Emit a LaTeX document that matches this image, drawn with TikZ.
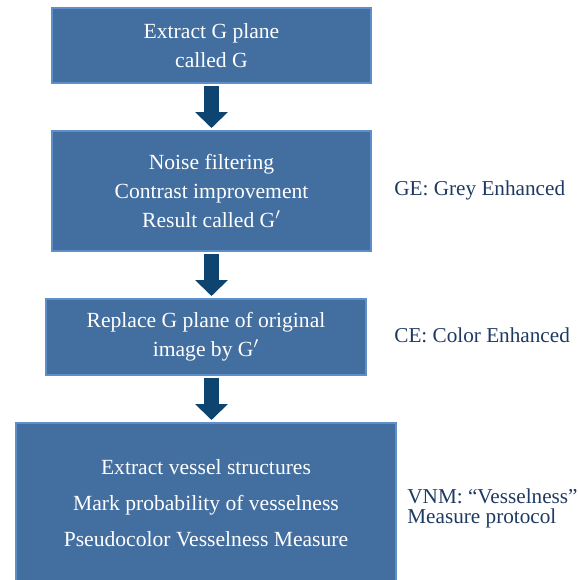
\documentclass[tikz,border=0pt]{standalone}
\usepackage{fontspec}
\setmainfont{Liberation Serif}
\usetikzlibrary{arrows.meta,positioning}

\definecolor{boxblue}{HTML}{436EA0}
\definecolor{boxline}{HTML}{5F8FCB}
\definecolor{arrowblue}{HTML}{0E4470}
\definecolor{labelblue}{HTML}{1F3A62}

\tikzset{
  stepbox/.style={draw=boxline, line width=1pt, fill=boxblue, text=white,
    align=center, inner sep=0pt, font=\fontsize{10.8}{14.5}\selectfont},
  sidelabel/.style={text=labelblue, align=left, inner sep=0pt, anchor=west,
    font=\fontsize{10.6}{10}\selectfont},
  downarrow/.style={arrowblue, line width=7.5pt,
    -{Triangle[width=16pt,length=8pt]}, shorten <=1pt, shorten >=1pt}
}

\begin{document}
\begin{tikzpicture}[x=0.5pt, y=-0.5pt]
    \useasboundingbox (0,0) rectangle (578,580);
    \clip (0,0) rectangle (578,580);
    % steps
    \node[stepbox, minimum width=159.5pt, minimum height=37.5pt] (extract) at (211.5,45.5)
        {Extract G plane\\called G};
    \node[stepbox, minimum width=159.5pt, minimum height=60pt] (enhance) at (211.5,191)
        {Noise filtering\\Contrast improvement\\Result called G$'$};
    \node[stepbox, minimum width=160pt, minimum height=38pt] (replace) at (206,337)
        {Replace G plane of original\\image by G$'$};
    \node[stepbox, minimum width=190pt, minimum height=80pt,
        font=\fontsize{10.8}{18}\selectfont] (vessel) at (206,503)
        {Extract vessel structures\\Mark probability of vesselness\\Pseudocolor Vesselness Measure};
    % labels on the right
    \node[sidelabel] (ge) at (394,190) {GE: Grey Enhanced};
    \node[sidelabel] (ce) at (394,335) {CE: Color Enhanced};
    \node[sidelabel] (vnm) at (407,508) {VNM: ``Vesselness''\\Measure protocol};
    % arrows
    \draw[downarrow] (extract.south) -- (enhance.north);
    \draw[downarrow] (enhance.south) -- (enhance.south |- replace.north);
    \draw[downarrow] (enhance.south |- replace.south) -- (enhance.south |- vessel.north);
\end{tikzpicture}
\end{document}
